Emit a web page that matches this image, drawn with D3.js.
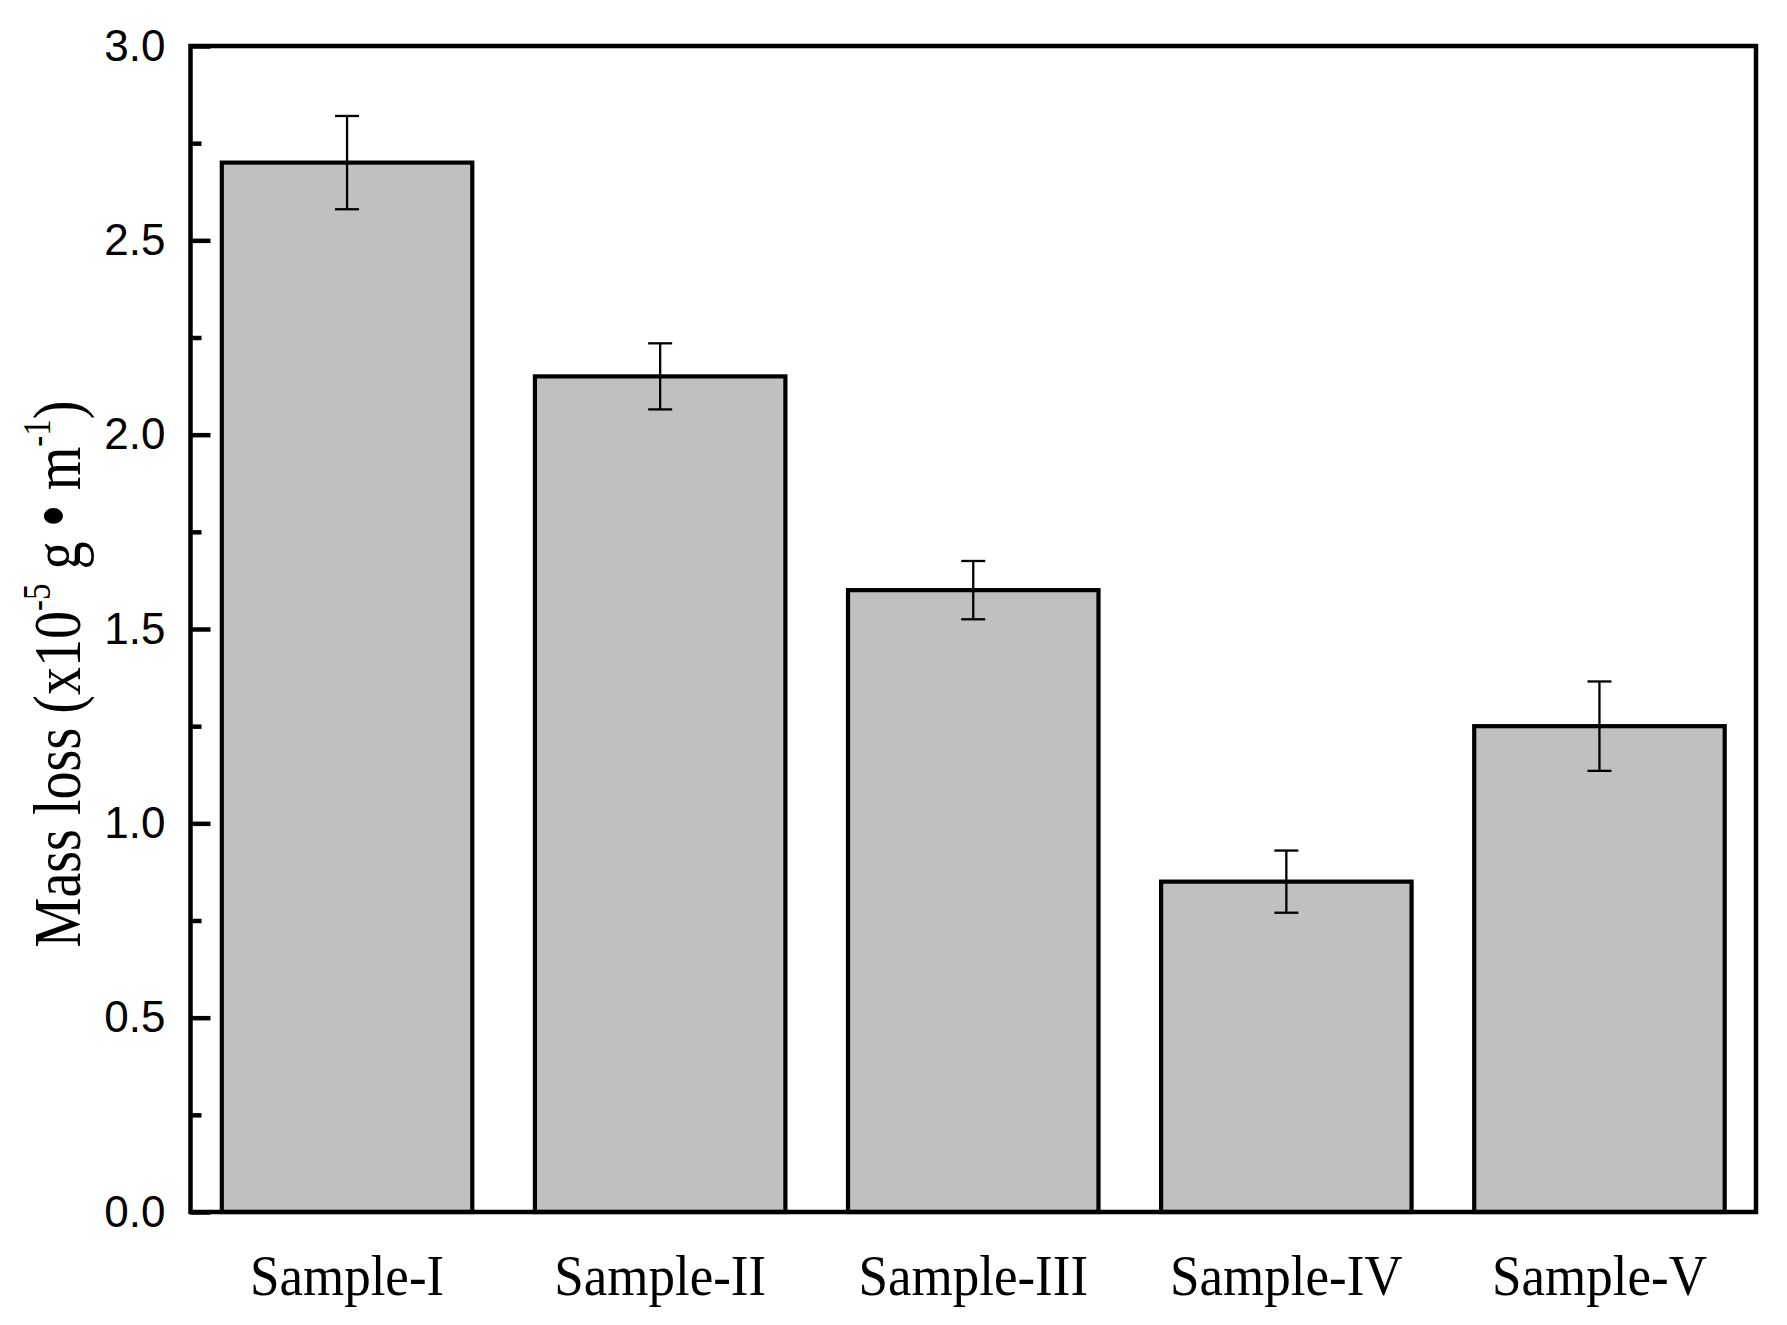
<!DOCTYPE html>
<html>
<head>
<meta charset="utf-8">
<script src="https://cdn.jsdelivr.net/npm/d3@7"></script>
<style>
  body { margin: 0; background: #fff; }
  svg { display: block; }
</style>
</head>
<body>
<svg id="chart"></svg>
<script>
// values
const samples = ["Sample-I", "Sample-II", "Sample-III", "Sample-IV", "Sample-V"];
const massLoss = [2.70, 2.15, 1.60, 0.85, 1.25];
const errLoss = [0.12, 0.085, 0.075, 0.08, 0.115];
const majorTicks = [0, 0.5, 1.0, 1.5, 2.0, 2.5, 3.0];
const minorTicks = [0.25, 0.75, 1.25, 1.75, 2.25, 2.75];

const W = 1787, H = 1325;
const margin = { top: 46, right: 31, bottom: 113, left: 190.5 };

const svg = d3.select("#chart").attr("width", W).attr("height", H);

const x = d3.scaleBand()
  .domain(samples)
  .range([margin.left, W - margin.right])
  .paddingInner(0.2)
  .paddingOuter(0.1);

const y = d3.scaleLinear()
  .domain([0, 3])
  .range([H - margin.bottom, margin.top]);

const data = samples.map((s, i) => ({ name: s, v: massLoss[i], e: errLoss[i] }));

// bars
svg.append("g")
  .selectAll("rect")
  .data(data)
  .join("rect")
  .attr("x", d => x(d.name))
  .attr("y", d => y(d.v))
  .attr("width", x.bandwidth())
  .attr("height", d => y(0) - y(d.v))
  .attr("fill", "#c0c0c0")
  .attr("stroke", "#000")
  .attr("stroke-width", 4.2);

// error bars
const eb = svg.append("g").attr("stroke", "#000").attr("stroke-width", 2.3);
data.forEach(d => {
  const cx = x(d.name) + x.bandwidth() / 2;
  eb.append("line").attr("x1", cx).attr("x2", cx)
    .attr("y1", y(d.v + d.e)).attr("y2", y(d.v - d.e));
  [d.v + d.e, d.v - d.e].forEach(val => {
    eb.append("line").attr("x1", cx - 12).attr("x2", cx + 12)
      .attr("y1", y(val)).attr("y2", y(val));
  });
});

// frame
svg.append("rect")
  .attr("x", margin.left).attr("y", margin.top)
  .attr("width", W - margin.right - margin.left)
  .attr("height", H - margin.bottom - margin.top)
  .attr("fill", "none").attr("stroke", "#000").attr("stroke-width", 4.5);

// y axis, ticks pointing inward
const yAxis = svg.append("g")
  .attr("transform", `translate(${margin.left},0)`)
  .call(d3.axisLeft(y).tickValues(majorTicks).tickSize(-20).tickPadding(25)
    .tickFormat(d3.format(".1f")));
yAxis.select(".domain").remove();
yAxis.selectAll(".tick line").attr("stroke", "#000").attr("stroke-width", 4.5);
yAxis.selectAll(".tick text")
  .attr("font-family", "'Liberation Sans', Arial, sans-serif")
  .attr("font-size", 44)
  .attr("fill", "#000");

const yMinor = svg.append("g")
  .attr("transform", `translate(${margin.left},0)`)
  .call(d3.axisLeft(y).tickValues(minorTicks).tickSize(-11).tickFormat(""));
yMinor.select(".domain").remove();
yMinor.selectAll(".tick line").attr("stroke", "#000").attr("stroke-width", 4.5);

// x labels
svg.append("g")
  .selectAll("text")
  .data(samples)
  .join("text")
  .attr("transform", d => `translate(${x(d) + x.bandwidth() / 2},1295) scale(0.93,1)`)
  .attr("text-anchor", "middle")
  .attr("font-family", "'Liberation Serif', 'Times New Roman', serif")
  .attr("font-size", 57)
  .text(d => d);

// y title
const title = svg.append("text")
  .attr("text-anchor", "middle")
  .attr("font-family", "'Liberation Serif', 'Times New Roman', serif")
  .attr("font-size", 68)
  .attr("fill", "#000");
title.append("tspan").text("Mass loss (x10");
title.append("tspan").attr("font-size", 40).attr("dy", -30).text("-5");
title.append("tspan").attr("dy", 30).text(" g ");
title.append("tspan").attr("font-size", 80).text("\u2022");
title.append("tspan").text(" m");
title.append("tspan").attr("font-size", 40).attr("dy", -30).text("-1");
title.append("tspan").attr("dy", 30).text(")");
const len = title.node().getComputedTextLength();
const sx = 547 / len;
title.attr("transform", `translate(80,674) rotate(-90) scale(${sx},1)`);
</script>
</body>
</html>
